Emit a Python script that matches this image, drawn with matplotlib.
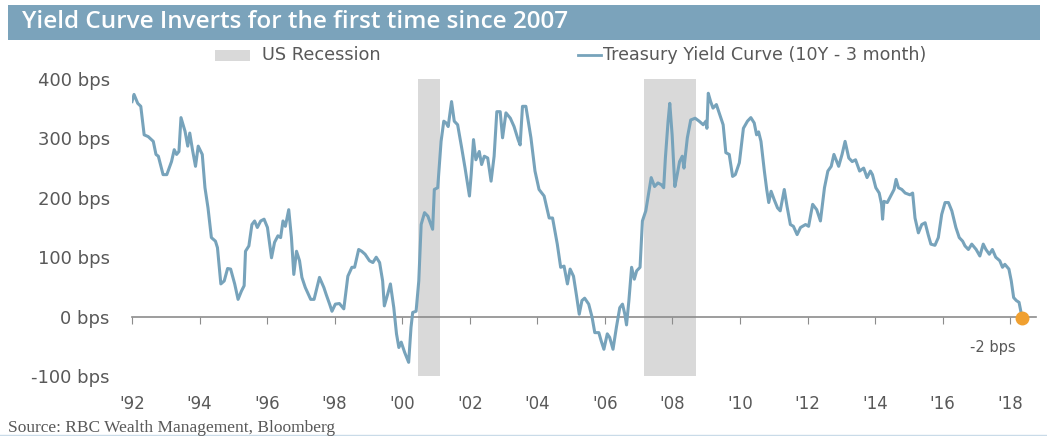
import matplotlib
matplotlib.use("Agg")
import matplotlib.pyplot as plt
from matplotlib.patches import Rectangle
from matplotlib.lines import Line2D

# 10Y - 3M treasury spread, bps
years = [
    1992.00, 1992.06, 1992.17, 1992.26, 1992.36, 1992.48, 1992.63, 1992.71, 1992.78, 1992.92,
    1993.03, 1993.17, 1993.25, 1993.32, 1993.39, 1993.45, 1993.57, 1993.65, 1993.71, 1993.79,
    1993.88, 1993.96, 1994.08, 1994.16, 1994.25, 1994.35, 1994.47, 1994.53, 1994.63, 1994.73,
    1994.83, 1994.92, 1995.04, 1995.14, 1995.24, 1995.32, 1995.36, 1995.46, 1995.55, 1995.63,
    1995.71, 1995.81, 1995.91, 1996.01, 1996.13, 1996.22, 1996.32, 1996.40, 1996.47, 1996.54,
    1996.64, 1996.72, 1996.79, 1996.87, 1996.96, 1997.03, 1997.13, 1997.29, 1997.39, 1997.55,
    1997.68, 1997.75, 1997.85, 1997.92, 1998.02, 1998.14, 1998.27, 1998.39, 1998.51, 1998.59,
    1998.71, 1998.80, 1998.90, 1999.03, 1999.13, 1999.23, 1999.33, 1999.42, 1999.47, 1999.57,
    1999.65, 1999.75, 1999.83, 1999.90, 1999.97, 2000.07, 2000.19, 2000.26, 2000.31, 2000.41,
    2000.49, 2000.56, 2000.66, 2000.76, 2000.90, 2000.95, 2001.05, 2001.15, 2001.23, 2001.30,
    2001.36, 2001.46, 2001.54, 2001.64, 2001.76, 2001.86, 2001.99, 2002.04, 2002.11, 2002.18,
    2002.28, 2002.35, 2002.43, 2002.53, 2002.63, 2002.72, 2002.80, 2002.90, 2002.97, 2003.07,
    2003.20, 2003.31, 2003.43, 2003.49, 2003.56, 2003.66, 2003.81, 2003.93, 2004.05, 2004.20,
    2004.35, 2004.45, 2004.59, 2004.69, 2004.79, 2004.89, 2004.97, 2005.07, 2005.16, 2005.24,
    2005.32, 2005.40, 2005.52, 2005.62, 2005.70, 2005.82, 2005.89, 2005.97, 2006.07, 2006.14,
    2006.24, 2006.34, 2006.44, 2006.52, 2006.59, 2006.64, 2006.71, 2006.79, 2006.87, 2006.94,
    2007.04, 2007.11, 2007.21, 2007.29, 2007.37, 2007.47, 2007.57, 2007.67, 2007.74, 2007.79,
    2007.87, 2007.92, 2007.99, 2008.07, 2008.14, 2008.21, 2008.29, 2008.34, 2008.44, 2008.54,
    2008.67, 2008.79, 2008.91, 2008.99, 2009.02, 2009.06, 2009.13, 2009.20, 2009.30, 2009.40,
    2009.50, 2009.58, 2009.68, 2009.78, 2009.86, 2009.98, 2010.10, 2010.22, 2010.32, 2010.42,
    2010.49, 2010.55, 2010.62, 2010.72, 2010.79, 2010.85, 2010.92, 2011.01, 2011.11, 2011.19,
    2011.31, 2011.39, 2011.49, 2011.58, 2011.69, 2011.79, 2011.94, 2012.03, 2012.15, 2012.27,
    2012.38, 2012.50, 2012.60, 2012.70, 2012.78, 2012.92, 2013.02, 2013.11, 2013.22, 2013.32,
    2013.42, 2013.54, 2013.66, 2013.76, 2013.86, 2013.92, 2014.02, 2014.12, 2014.19, 2014.22,
    2014.26, 2014.36, 2014.46, 2014.56, 2014.62, 2014.69, 2014.79, 2014.89, 2015.03, 2015.11,
    2015.18, 2015.28, 2015.38, 2015.48, 2015.57, 2015.65, 2015.77, 2015.87, 2015.97, 2016.07,
    2016.17, 2016.27, 2016.39, 2016.49, 2016.59, 2016.66, 2016.76, 2016.86, 2016.99, 2017.10,
    2017.20, 2017.28, 2017.38, 2017.47, 2017.57, 2017.69, 2017.77, 2017.84, 2017.96, 2018.03,
    2018.10, 2018.18, 2018.26, 2018.33, 2018.36,
]
spread_bps = [
    362, 374, 359, 354, 306, 303, 295, 273, 270, 239,
    239, 261, 281, 273, 278, 335, 312, 287, 309, 281,
    253, 287, 273, 217, 183, 133, 127, 116, 55, 60,
    81, 80, 55, 29, 43, 52, 110, 119, 155, 161,
    150, 161, 164, 150, 99, 125, 136, 133, 161, 152,
    180, 133, 71, 110, 94, 66, 49, 29, 29, 66,
    49, 37, 21, 9, 21, 22, 13, 68, 83, 83,
    113, 110, 105, 94, 91, 100, 91, 60, 18, 38,
    55, 15, -29, -52, -43, -60, -77, -18, 7, 9,
    60, 155, 175, 169, 147, 214, 217, 295, 329, 326,
    320, 362, 329, 323, 284, 250, 203, 239, 298, 264,
    278, 256, 270, 267, 228, 270, 345, 345, 301, 343,
    334, 320, 298, 289, 354, 354, 301, 245, 214, 203,
    166, 166, 122, 83, 85, 55, 80, 68, 35, 4,
    27, 31, 21, -1, -27, -27, -41, -55, -29, -35,
    -55, -18, 15, 21, 4, -14, 27, 83, 63, 77,
    83, 161, 178, 206, 234, 219, 225, 222, 217, 267,
    329, 359, 306, 219, 239, 261, 270, 250, 301, 331,
    334, 329, 323, 329, 317, 376, 362, 351, 357, 340,
    323, 276, 273, 236, 239, 259, 317, 329, 335, 326,
    306, 311, 295, 245, 214, 192, 211, 197, 183, 178,
    214, 186, 155, 152, 138, 150, 155, 152, 189, 180,
    161, 217, 245, 253, 273, 253, 273, 295, 267, 261,
    264, 245, 250, 234, 245, 239, 217, 208, 189, 164,
    194, 192, 203, 214, 231, 217, 214, 208, 205, 208,
    166, 141, 155, 158, 138, 122, 120, 133, 172, 192,
    192, 178, 150, 133, 127, 119, 113, 122, 113, 102,
    122, 113, 105, 113, 100, 94, 83, 88, 80, 60,
    32, 27, 24, 4, -2,
]

recessions = [(2000.48, 2001.13), (2007.15, 2008.69)]
tick_years = list(range(1992, 2019, 2))
tick_labels = ["'%02d" % (y % 100) for y in tick_years]
y_ticks = [-100, 0, 100, 200, 300, 400]
y_labels = ["%d bps" % v for v in y_ticks]

title = "Yield Curve Inverts for the first time since 2007"
source = "Source: RBC Wealth Management, Bloomberg"

LINE = "#77a3bb"
BAND = "#d9d9d9"
HEADER = "#7ba3bb"
DOT = "#f0a030"
GREY = "#595959"
AXIS = "#8c8c8c"

W, H = 1047, 436
fig = plt.figure(figsize=(W / 100, H / 100), dpi=100)
fig.patch.set_facecolor("white")

# header bar
fig.patches.append(Rectangle((8 / W, 1 - 40 / H), 1032 / W, 35 / H,
                             transform=fig.transFigure, color=HEADER, lw=0))
fig.text(22 / W, 1 - 22.5 / H, title, color="white", fontsize=17.5,
         fontweight="semibold", family="Open Sans", va="center", ha="left")

ax = fig.add_axes([132 / W, 60 / H, (1035.6 - 132) / W, 297 / H])
ax.set_xlim(1992, 2018.75)
ax.set_ylim(-100, 400)

for a, b in recessions:
    ax.axvspan(a, b, color=BAND, lw=0, zorder=0)

ax.plot(years, spread_bps, color=LINE, lw=2.2, solid_joinstyle="round", zorder=3)
ax.plot(years[-1], spread_bps[-1], "o", color=DOT, ms=9, zorder=4)
ax.annotate("%d bps" % spread_bps[-1], (years[-1], spread_bps[-1]),
            xytext=(-30, -30), textcoords="offset pixels",
            ha="center", va="center", fontsize=10.5, color=GREY)

for side in ["left", "right", "top"]:
    ax.spines[side].set_visible(False)
ax.spines["bottom"].set_position(("data", 0))
ax.spines["bottom"].set_color(AXIS)
ax.spines["bottom"].set_linewidth(1.2)
ax.set_xticks(tick_years)
ax.tick_params(axis="x", direction="out", length=5, color=AXIS,
               labelbottom=False)

ax.set_yticks(y_ticks, y_labels)
ax.tick_params(axis="y", length=0, pad=16, labelsize=13, labelcolor=GREY)

# year labels sit under the plot, not on the zero line
sec = ax.secondary_xaxis("bottom")
sec.set_xticks(tick_years, tick_labels)
sec.spines["bottom"].set_visible(False)
sec.tick_params(length=0, pad=14, labelsize=12, labelcolor=GREY)

# legend
fig.patches.append(Rectangle((215 / W, 1 - 61 / H), 35 / W, 11 / H,
                             transform=fig.transFigure, color=BAND, lw=0))
fig.text(262 / W, 1 - 55 / H, "US Recession", fontsize=12.8, color=GREY,
         va="center")
fig.add_artist(Line2D([578 / W, 601 / W], [1 - 55 / H] * 2, color=LINE, lw=2))
fig.text(603 / W, 1 - 55 / H, "Treasury Yield Curve (10Y - 3 month)",
         fontsize=12.6, color=GREY, va="center")

fig.text(8 / W, 1 - 428 / H, source, family="Liberation Serif", fontsize=12.5,
         color=GREY, va="center")
fig.add_artist(Line2D([0, 1], [0.6 / H] * 2, color="#c9dbe8", lw=1))

fig.savefig("out.png", dpi=100)
